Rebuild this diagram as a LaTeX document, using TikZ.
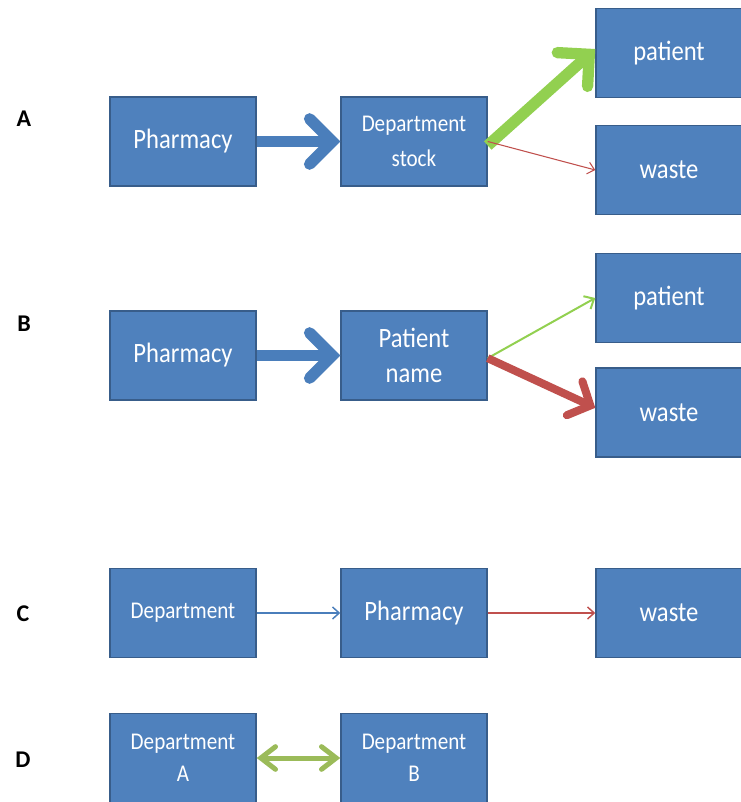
\documentclass[tikz,border=0pt]{standalone}
\usepackage{fontspec}
\setmainfont{Carlito}[FakeStretch=0.88]
\newfontfamily\labelfont{Carlito}
\usetikzlibrary{arrows.meta}

\definecolor{boxfill}{RGB}{79,129,189}
\definecolor{boxline}{RGB}{56,93,138}
\definecolor{flowblue}{RGB}{74,126,187}
\definecolor{flowgreen}{RGB}{146,208,80}
\definecolor{flowolive}{RGB}{155,187,89}
\definecolor{flowred}{RGB}{192,80,77}

\tikzset{every picture/.style={line width=0.75pt}}
\tikzset{
  box/.style={draw=boxline, line width=1.1pt, fill=boxfill, text=white,
    minimum width=109.5pt, minimum height=67pt, inner sep=0.75pt, align=center,
    font=\fontsize{21}{26}\selectfont},
  smallbox/.style={box, font=\fontsize{18}{26}\selectfont},
  rowlabel/.style={inner sep=0.75pt, font=\labelfont\fontsize{18}{20}\selectfont\bfseries},
  bigflow/.style={line width=8.5pt, -{Straight Barb[length=17pt,width=34pt,line cap=round]}},
  midflow/.style={line width=6pt, -{Straight Barb[length=13pt,width=28pt,line cap=round]}},
  thinflow/.style={line width=0.8pt, -{Straight Barb[length=5pt,width=9pt]}},
  twoway/.style={line width=3.75pt, {Straight Barb[length=11pt,width=17pt,line cap=round]}-{Straight Barb[length=11pt,width=17pt,line cap=round]}},
}

\begin{document}
\begin{tikzpicture}[x=0.75pt,y=0.75pt,yscale=-1,xscale=1]
        \useasboundingbox (0,0) rectangle (741,802);
        % Row labels
        \node [rowlabel] (labA) at (24,119) {A};
        \node [rowlabel] (labB) at (24,324) {B};
        \node [rowlabel] (labC) at (23,614) {C};
        \node [rowlabel] (labD) at (23,760) {D};
        %Rect row A
        \node [box] (phA) at (183,141.5) {Pharmacy};
        \node [smallbox] (dsA) at (414,141.5) {Department\\stock};
        \node [box] (patA) at (669,53) {patient};
        \node [box] (wA) at (669,170) {waste};
        %Rect row B
        \node [box] (phB) at (183,355.5) {Pharmacy};
        \node [box] (pnB) at (414,355.5) {Patient\\name};
        \node [box] (patB) at (669,298) {patient};
        \node [box] (wB) at (669,412.5) {waste};
        %Rect row C
        \node [smallbox] (depC) at (183,613) {Department};
        \node [box] (phC) at (414,613) {Pharmacy};
        \node [box] (wC) at (669,613) {waste};
        %Rect row D
        \node [smallbox, font=\fontsize{18}{24}\selectfont] (depA) at (183,758) {Department\\A};
        \node [smallbox, font=\fontsize{18}{24}\selectfont] (depB) at (414,758) {Department\\B};
        % Arrows row A
        \draw [bigflow, flowblue] (phA) -- (dsA);
        \draw [bigflow, flowgreen] ([yshift=3pt]dsA.east) -- ([yshift=-3pt]patA.west);
        \draw [thinflow, flowred] (dsA.east) -- (wA.west);
        % Arrows row B
        \draw [bigflow, flowblue] (phB) -- (pnB);
        \draw [line width=1.5pt, -{Straight Barb[length=6pt,width=11pt]}, flowgreen] ([yshift=2pt]pnB.east) -- (patB.west);
        \draw [midflow, flowred] ([yshift=2pt]pnB.east) -- ([yshift=-3.5pt]wB.west);
        % Arrows row C
        \draw [thinflow, line width=1.1pt, flowblue] (depC) -- (phC);
        \draw [thinflow, line width=1.1pt, flowred] (phC) -- (wC);
        % Arrow row D
        \draw [twoway, flowolive] (depA) -- (depB);
\end{tikzpicture}
\end{document}
